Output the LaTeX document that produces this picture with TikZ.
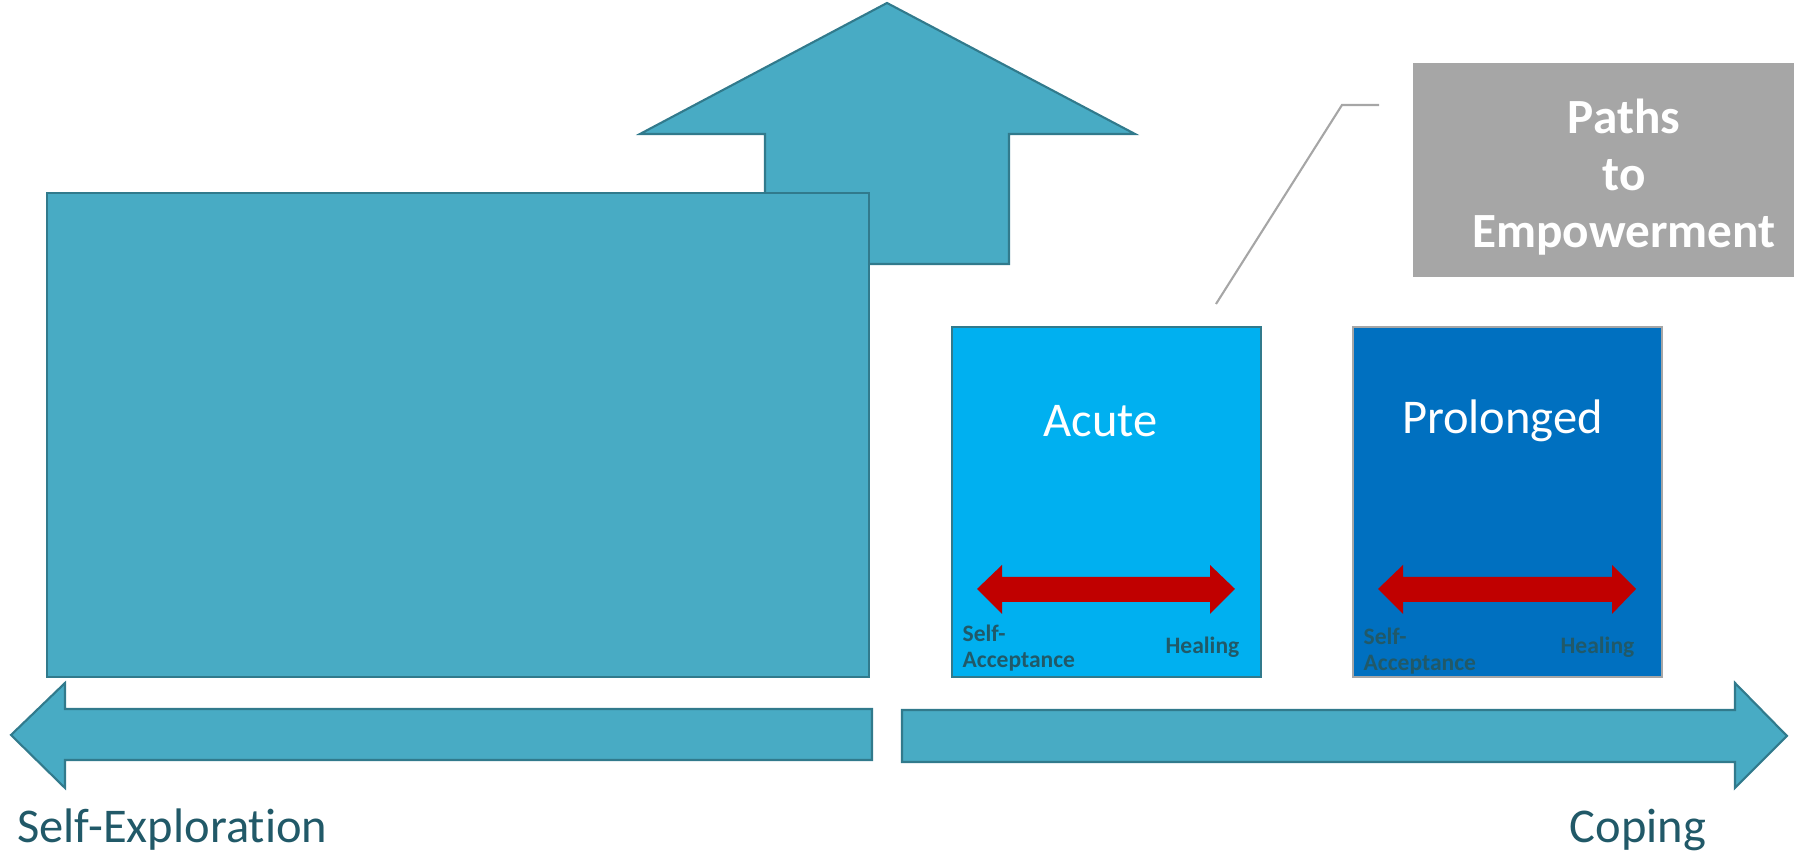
\documentclass[tikz,border=0pt]{standalone}
\usepackage{fontspec}
\setmainfont{Carlito}[Ligatures=NoCommon]
\usetikzlibrary{positioning, calc}
\definecolor{tealfill}{RGB}{72,171,196}
\definecolor{tealline}{RGB}{49,122,140}
\definecolor{acuteblue}{RGB}{0,176,240}
\definecolor{longblue}{RGB}{0,112,192}
\definecolor{pathsgray}{RGB}{166,166,166}
\definecolor{arrowred}{RGB}{192,0,0}
\definecolor{labelteal}{RGB}{33,89,104}

\begin{document}
\begin{tikzpicture}[
  tealblock/.style={fill=tealfill, draw=tealline, line width=0.6pt},
  phasebox/.style={minimum width=3.09cm, minimum height=3.5cm, anchor=south west, line width=0.6pt, inner sep=0pt},
  phasetitle/.style={text=white, font=\fontsize{13.8}{16}\selectfont},
  endlabel/.style={text=labelteal, font=\fontsize{13.8}{16}\selectfont, anchor=base},
  poletext/.style={text=labelteal, font=\bfseries\fontsize{6.7}{7.2}\selectfont, inner sep=0pt}
]
  \useasboundingbox (0,0) rectangle (17.94,8.58);

  % up arrow, partly hidden by the big block
  \draw[tealblock] (8.87,8.55) -- (11.35,7.24) -- (10.09,7.24) -- (10.09,5.94)
    -- (7.65,5.94) -- (7.65,7.24) -- (6.40,7.24) -- cycle;
  \node[tealblock, minimum width=8.22cm, minimum height=4.84cm, anchor=south west, inner sep=0pt] (block) at (0.46,1.80) {};

  % timeline arrows
  \draw[tealblock] (0.11,1.23) -- (0.65,1.75) -- (0.65,1.49) -- (8.72,1.49)
    -- (8.72,0.98) -- (0.65,0.98) -- (0.65,0.70) -- cycle;
  \draw[tealblock] (17.87,1.22) -- (17.35,1.75) -- (17.35,1.48) -- (9.02,1.48)
    -- (9.02,0.96) -- (17.35,0.96) -- (17.35,0.70) -- cycle;
  \node[endlabel, anchor=base west] (explore) at (0.05,0.15) {Self-Exploration};
  \node[endlabel] (coping) at (16.38,0.15) {Coping};

  % phases
  \node[phasebox, fill=acuteblue, draw=tealline] (acute) at (9.51,1.80) {};
  \node[phasebox, fill=longblue, draw=pathsgray] (prolonged) at (13.52,1.80) {};
  \node[phasetitle] (acutetitle) at ([xshift=-0.06cm, yshift=-0.95cm]acute.north) {Acute};
  \node[phasetitle] (prolongedtitle) at ([xshift=-0.05cm, yshift=-0.95cm]prolonged.north) {Prolonged};

  % red double arrows
  \fill[arrowred] (9.77,2.69) -- (10.02,2.93) -- (10.02,2.81) -- (12.10,2.81) -- (12.10,2.93)
    -- (12.35,2.69) -- (12.10,2.44) -- (12.10,2.56) -- (10.02,2.56) -- (10.02,2.44) -- cycle;
  \fill[arrowred] (13.78,2.69) -- (14.03,2.93) -- (14.03,2.81) -- (16.12,2.81) -- (16.12,2.93)
    -- (16.36,2.69) -- (16.12,2.44) -- (16.12,2.56) -- (14.03,2.56) -- (14.03,2.44) -- cycle;
  \node[poletext, align=left, anchor=west] (acuteself) at (9.62,2.10) {Self-\\Acceptance};
  \node[poletext, anchor=east] (acuteheal) at (12.40,2.11) {Healing};
  \node[poletext, align=left, anchor=west] (longself) at (13.63,2.07) {Self-\\Acceptance};
  \node[poletext, anchor=east] (longheal) at (16.35,2.11) {Healing};

  % callout
  \node[fill=pathsgray, minimum width=3.82cm, minimum height=2.14cm, anchor=south west, inner sep=0pt] (paths) at (14.12,5.80) {};
  \node[text=white, align=center, font=\bfseries\fontsize{14}{16.3}\selectfont] (pathstext) at (16.24,6.81) {Paths\\to\\Empowerment};
  \coordinate (callfoot) at (12.16,5.54);
  \coordinate (callknee) at (13.42,7.53);
  \coordinate (callend) at (13.79,7.53);
  \draw[pathsgray, line width=0.6pt] (callfoot) -- (callknee) -- (callend);
\end{tikzpicture}
\end{document}
